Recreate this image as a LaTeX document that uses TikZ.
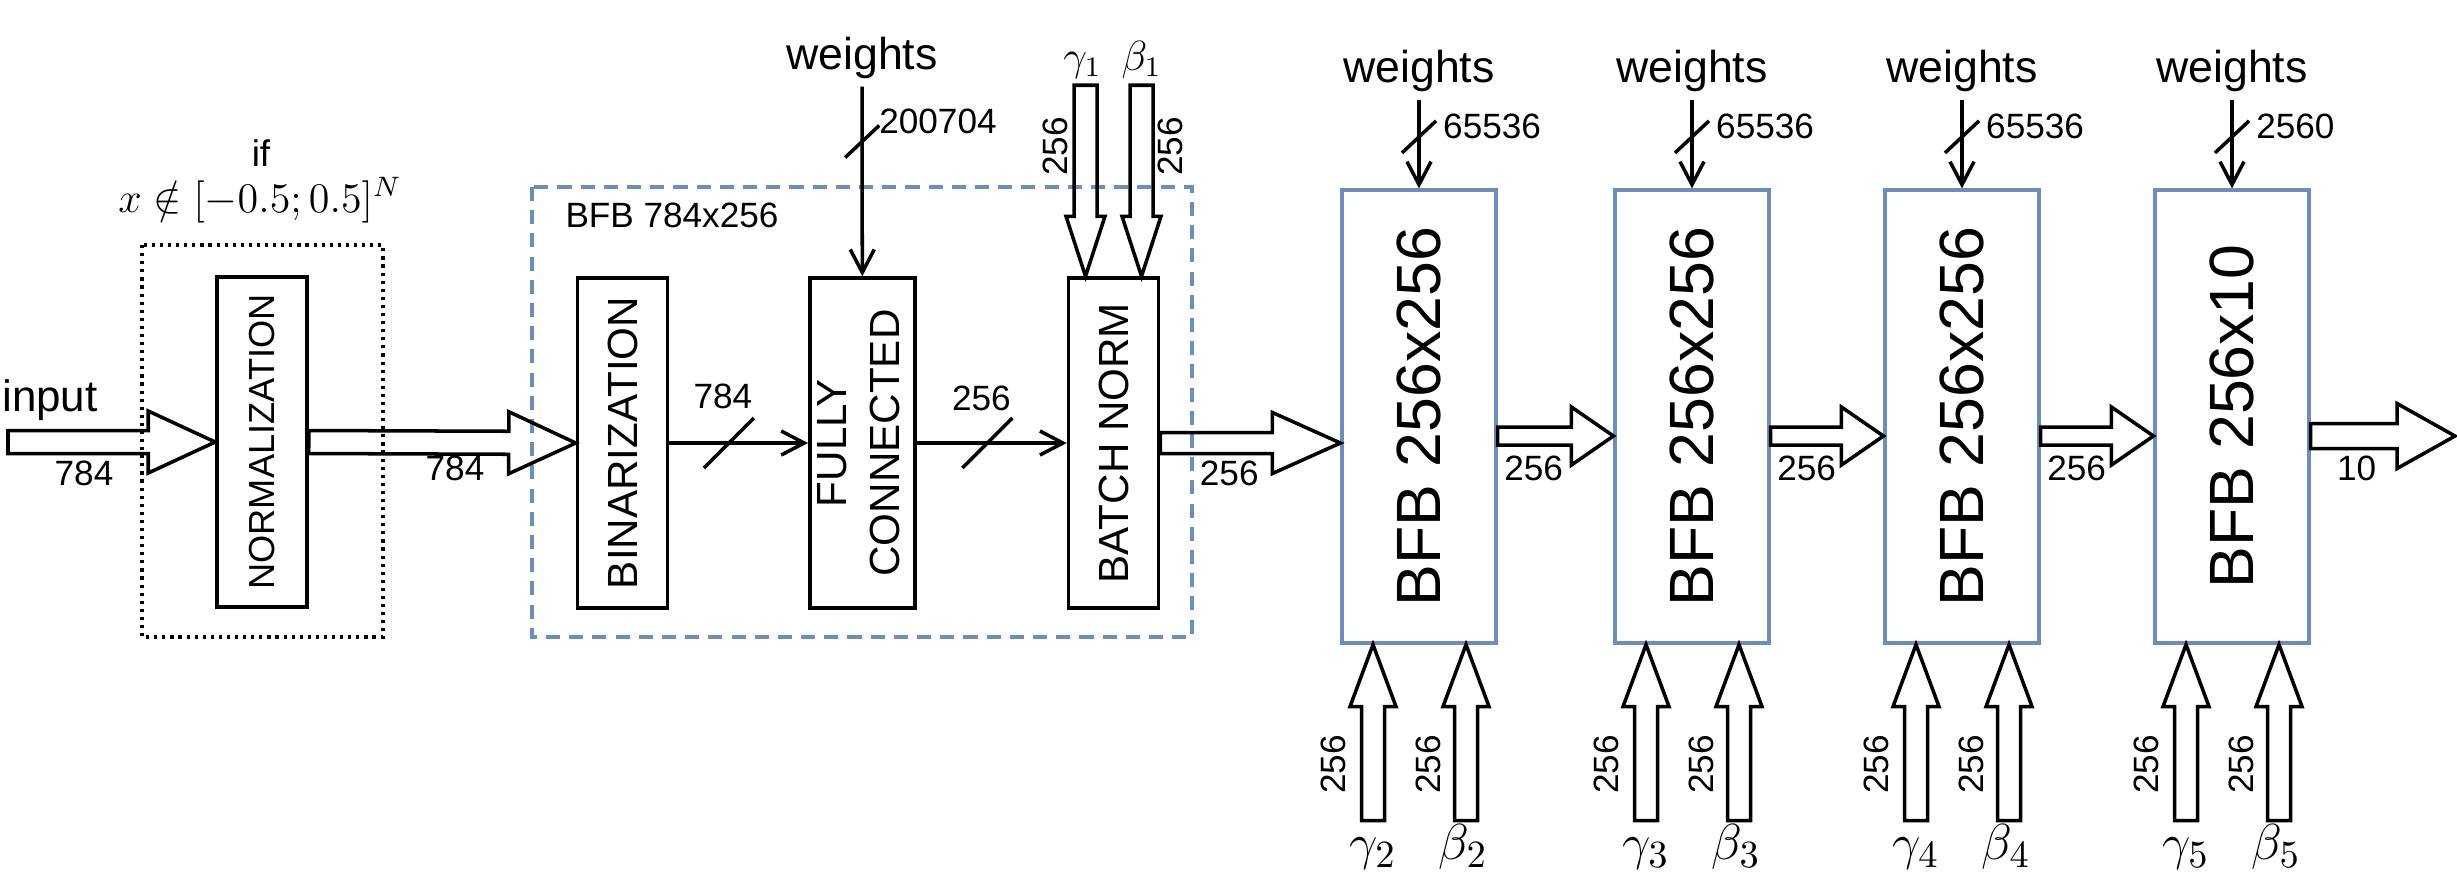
\documentclass[tikz,border=0pt]{standalone}
\usepackage[no-math]{fontspec}
\setmainfont{Liberation Sans}
\usepackage{graphicx}
\usetikzlibrary{calc,arrows.meta}

\definecolor{bfbblue}{RGB}{108,142,191}

% hollow block arrow: tail, tip, shaft half width, head half width, head length
\newcommand{\fatarrow}[5]{%
  \coordinate (fa-h) at ($(#2)!#5!(#1)$);
  \draw[line width=1pt] ($(#1)!#3!90:(#2)$) -- ($(fa-h)!#3!90:(#2)$)
    -- ($(fa-h)!#4!90:(#2)$) -- (#2) -- ($(fa-h)!#4!-90:(#2)$)
    -- ($(fa-h)!#3!-90:(#2)$) -- ($(#1)!#3!-90:(#2)$) -- cycle;}

\tikzset{
  blk/.style={draw, line width=1pt, minimum width=0.9cm, minimum height=3.3cm,
    inner sep=0pt, font=\fontsize{12}{15}\selectfont},
  bfb/.style={draw=bfbblue, line width=0.9pt, minimum width=1.54cm,
    minimum height=4.53cm, inner sep=0pt, font=\fontsize{17.8}{20}\selectfont},
  num/.style={font=\fontsize{10}{12}\selectfont, inner sep=1pt},
  wlab/.style={font=\fontsize{12.7}{15}\selectfont, inner sep=2pt},
  arr/.style={line width=1pt, -{Straight Barb[length=2.3mm,width=2.4mm]}},
  slash/.style={line width=1pt},
  dotbox/.style={line width=0.9pt, dash pattern=on 0.9pt off 1.4pt},
  dashbox/.style={draw=bfbblue, line width=0.9pt, dash pattern=on 4pt off 2.6pt}
}

\begin{document}
\begin{tikzpicture}
  \useasboundingbox (0,0) rectangle (24.57,-8.85);

  % normalization stage
  \draw[dotbox] (1.42,-2.45) rectangle (3.83,-6.37);
  \node[font=\fontsize{10.5}{12}\selectfont, inner sep=0pt] (iflab) at (2.61,-1.53) {if};
  \node[font=\fontsize{12}{14}\selectfont, inner sep=0pt] (cond) at (2.60,-2.00) {$x\notin[-0.5;0.5]^N$};
  \node[blk, font=\fontsize{10.3}{12}\selectfont] (norm) at (2.62,-4.42) {\rotatebox{90}{NORMALIZATION}};
  \node[font=\fontsize{12.5}{15}\selectfont] (inlab) at (0.50,-4.00) {input};
  \coordinate (in) at (0.08,-4.42);
  \fatarrow{in}{norm.west}{0.115cm}{0.31cm}{0.67cm}
  \node[num] at (0.84,-4.73) {784};

  % first block
  \draw[dashbox] (5.32,-1.87) rectangle (11.92,-6.37);
  \node[num] (bfb0) at (6.72,-2.15) {BFB 784x256};
  \node[blk] (bin) at (6.225,-4.43) {\rotatebox{90}{BINARIZATION}};
  \node[blk] (fc) at (8.625,-4.43)
    {\rotatebox{90}{\begin{tabular}{@{}c@{}}FULLY\\CONNECTED\end{tabular}}};
  \node[blk] (bn) at (11.135,-4.43) {\rotatebox{90}{BATCH NORM}};
  \fatarrow{norm.east}{bin.west}{0.115cm}{0.31cm}{0.67cm}
  \node[num] at (4.55,-4.68) {784};

  \draw[arr] (bin) -- coordinate[pos=.43] (s1) (fc);
  \draw[slash] (s1) +(-.25,-.25) -- +(.25,.25);
  \node[num] at ($(s1)+(-.06,.47)$) {784};
  \draw[arr] (fc) -- coordinate[pos=.47] (s2) (bn);
  \draw[slash] (s2) +(-.25,-.25) -- +(.25,.25);
  \node[num] at ($(s2)+(-.06,.45)$) {256};

  \node[wlab] (w0) at (8.62,-0.58) {weights};
  \draw[arr] (w0) -- coordinate[pos=.29] (ws0) (fc);
  \draw[slash] (ws0) +(-.17,-.16) -- +(.17,.16);
  \node[num, anchor=west] at ($(ws0)+(.13,.20)$) {200704};

  \coordinate (g1) at ([xshift=-.28cm]bn.north);
  \coordinate (b1) at ([xshift=.28cm]bn.north);
  \coordinate (g1t) at ([yshift=1.91cm]g1);
  \coordinate (b1t) at ([yshift=1.91cm]b1);
  \fatarrow{g1t}{g1}{0.115cm}{0.195cm}{0.60cm}
  \fatarrow{b1t}{b1}{0.115cm}{0.195cm}{0.60cm}
  \node[font=\fontsize{12}{14}\selectfont, anchor=base] at ($(g1t)+(-.03,.15)$) {$\gamma_1$};
  \node[font=\fontsize{12}{14}\selectfont, anchor=base] at ($(b1t)+(0,.15)$) {$\beta_1$};
  \node[num, rotate=90] at ($(g1t)+(-.30,-.61)$) {256};
  \node[num, rotate=90] at ($(b1t)+(.29,-.61)$) {256};

  % BFB chain
  \coordinate (chain) at (0,-4.36);
  \foreach \i/\x/\sz/\nw/\k in {1/14.19/256x256/65536/2,2/16.92/256x256/65536/3,
                               3/19.62/256x256/65536/4,4/22.32/256x10/2560/5}{
    \node[bfb] (bfb\i) at (\x,-4.165) {\rotatebox{90}{BFB \sz}};
    \node[wlab] (w\i) at (\x,-0.71) {weights};
    \draw[arr] (w\i) -- coordinate[pos=.42] (ws\i) (bfb\i);
    \draw[slash] (ws\i) +(-.17,-.16) -- +(.17,.16);
    \node[num, anchor=west] at ($(ws\i)+(.20,.10)$) {\nw};
    \coordinate (g\k) at ([xshift=-.46cm]bfb\i.south);
    \coordinate (b\k) at ([xshift=.47cm]bfb\i.south);
    \coordinate (g\k t) at ([yshift=-1.76cm]g\k);
    \coordinate (b\k t) at ([yshift=-1.76cm]b\k);
    \fatarrow{g\k t}{g\k}{0.115cm}{0.23cm}{0.62cm}
    \fatarrow{b\k t}{b\k}{0.115cm}{0.23cm}{0.62cm}
    \node[num, rotate=90] at ($(g\k t)+(-.40,.56)$) {256};
    \node[num, rotate=90] at ($(b\k t)+(-.38,.56)$) {256};
    \node[font=\fontsize{15}{17}\selectfont, anchor=base] at ($(g\k t)+(0,-.39)$) {$\gamma_\k$};
    \node[font=\fontsize{15}{17}\selectfont, anchor=base] at ($(b\k t)+(-.03,-.39)$) {$\beta_\k$};
    \coordinate (bi\i) at (bfb\i.west |- chain);
    \coordinate (bo\i) at (bfb\i.east |- chain);
  }
  \coordinate (bnin) at (bfb1.west |- bn.east);
  \fatarrow{bn.east}{bnin}{0.105cm}{0.305cm}{0.68cm}
  \node[num] at ($(bn.east)+(.69,-.30)$) {256};
  \foreach \i/\j in {1/2,2/3,3/4}{
    \fatarrow{bo\i}{bi\j}{0.09cm}{0.29cm}{0.42cm}
    \node[num] at ($(bo\i)+(.36,-.32)$) {256};
  }
  \coordinate (out) at (24.55,-4.36);
  \fatarrow{bo4}{out}{0.125cm}{0.325cm}{0.58cm}
  \node[num] at ($(bo4)+(.46,-.32)$) {10};
\end{tikzpicture}
\end{document}
